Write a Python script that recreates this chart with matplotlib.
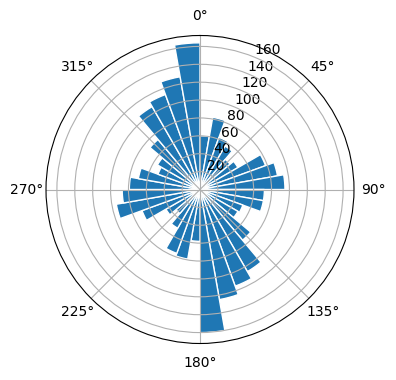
import numpy as np
import matplotlib
matplotlib.use("Agg")
import matplotlib.pyplot as plt

# direction bins (degrees, start of each 10-degree bin)
directions = list(range(0, 360, 10))
counts = [60, 82, 62, 56, 44, 49, 78, 88, 95,
          72, 72, 51, 49, 74, 106, 115, 125, 160,
          58, 79, 76, 50, 35, 44, 69, 95, 87,
          79, 70, 50, 55, 73, 107, 113, 128, 164]
bin_width_deg = 10

fig = plt.figure(figsize=(3.96, 3.8), dpi=100)
ax = fig.add_axes([(200 - 154) / 396, (380 - 189.5 - 154) / 380, 308 / 396, 308 / 380],
                  projection="polar")
ax.set_theta_zero_location("N")
ax.set_theta_direction(-1)

theta = np.deg2rad(directions)
ax.bar(theta, counts, width=np.deg2rad(bin_width_deg), align="edge",
       color="#1f77b4", edgecolor="white", linewidth=1)
ax.set_rticks([20, 40, 60, 80, 100, 120, 140, 160])

fig.savefig("out.png", dpi=100)
